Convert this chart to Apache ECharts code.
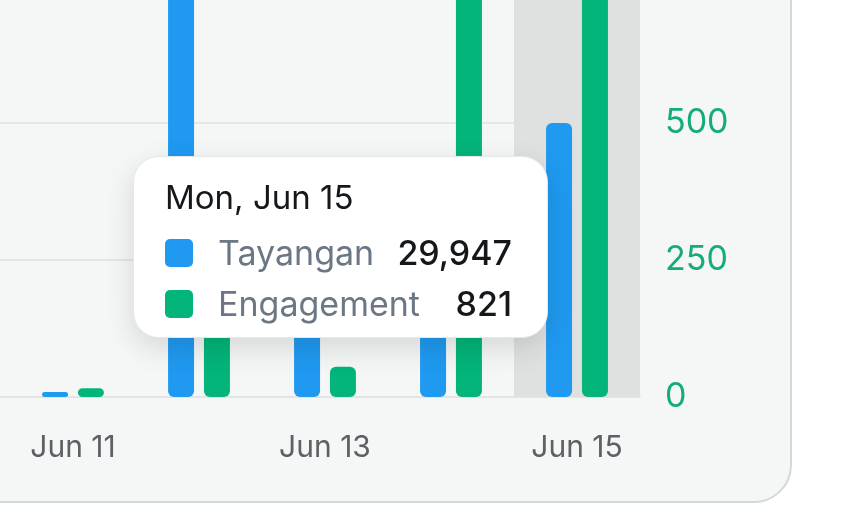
<!DOCTYPE html>
<html>
<head>
<meta charset="utf-8">
<script src="https://cdn.jsdelivr.net/npm/echarts@6/dist/echarts.min.js"></script>
<style>
  html, body { margin: 0; padding: 0; background: #ffffff; overflow: hidden; }
  #card {
    position: absolute; left: -40px; top: -40px; width: 832px; height: 543px;
    box-sizing: border-box; background: #f5f7f7;
    border: 2px solid #d3d8dd; border-radius: 38px;
  }
  /* the reference is a crop of a bigger chart, so the canvas starts off-screen */
  #chart { position: absolute; left: -300px; top: -200px; width: 1147px; height: 729px; }
</style>
</head>
<body>
<div id="card"></div>
<div id="chart"></div>
<script>
// days before Jun 11 are outside the visible crop
const days = ['Jun 9', 'Jun 10', 'Jun 11', 'Jun 12', 'Jun 13', 'Jun 14', 'Jun 15'];
const weekdays = ['Tue', 'Wed', 'Thu', 'Fri', 'Sat', 'Sun', 'Mon'];
const tayangan = [null, null, 550, 52000, 16000, 21000, 29947];
const engagement = [null, null, 16, 280, 55, 900, 821];
const engagementTicks = [0, 250, 500, 750, 1000];

const blue = '#1f9af0';
const green = '#03b57a';
const font = 'Inter, "Noto Sans", sans-serif';

const myChart = echarts.init(document.getElementById('chart'));

const fmt = v => Number(v).toLocaleString('en-US');

const option = {
  animation: false,
  textStyle: { fontFamily: font },
  grid: { left: 58, right: 207, top: 48, bottom: 132, containLabel: false },
  tooltip: {
    trigger: 'axis',
    triggerOn: 'none',
    alwaysShowContent: true,
    axisPointer: {
      type: 'shadow',
      z: 1,
      shadowStyle: { color: '#dfe1e1', opacity: 1 }
    },
    position: function () { return [433, 356]; },
    padding: 0,
    borderWidth: 1,
    borderColor: '#e4e8eb',
    backgroundColor: '#ffffff',
    extraCssText: 'width:415px;height:182px;box-sizing:border-box;border-radius:26px;box-shadow:0 10px 30px rgba(0,0,0,0.13);',
    formatter: function (params) {
      const i = params[0].dataIndex;
      let html = '<div style="padding:20px 35px 0 31px;font-family:' + font.replace(/"/g, "'") + ';">';
      html += '<div style="font-size:33px;line-height:40px;color:#15181b;">' + weekdays[i] + ', ' + days[i] + '</div>';
      html += '<div style="margin-top:10px;">';
      params.forEach(function (p) {
        html += '<div style="display:flex;align-items:center;height:51px;">' +
          '<span style="display:inline-block;width:28px;height:28px;border-radius:5px;background:' + p.color + ';"></span>' +
          '<span style="margin-left:25px;font-size:34px;color:#6b7785;">' + p.seriesName + '</span>' +
          '<span style="margin-left:auto;font-size:34px;font-weight:500;color:#15181b;">' + fmt(p.value) + '</span>' +
          '</div>';
      });
      html += '</div></div>';
      return html;
    }
  },
  xAxis: {
    type: 'category',
    data: days,
    axisTick: { show: false },
    axisLine: { show: true, lineStyle: { color: '#e1e5e8', width: 2 } },
    axisLabel: { interval: 1, margin: 36, fontSize: 30, color: '#5c6166', fontFamily: font }
  },
  yAxis: [{
    type: 'value',
    min: 0, max: 60000, interval: 15000,
    splitLine: { show: false },
    axisLine: { show: false },
    axisTick: { show: false },
    axisLabel: { show: false }
  }, {
    type: 'value',
    position: 'right',
    min: engagementTicks[0],
    max: engagementTicks[engagementTicks.length - 1],
    interval: engagementTicks[1] - engagementTicks[0],
    splitLine: { show: true, lineStyle: { color: '#e3e7ea', width: 2 } },
    axisLine: { show: false },
    axisTick: { show: false },
    axisLabel: { margin: 25, fontSize: 34, color: '#14ad78', fontFamily: font }
  }],
  series: [{
    name: 'Tayangan',
    type: 'bar',
    yAxisIndex: 0,
    data: tayangan,
    barWidth: 26,
    barGap: '38%',
    emphasis: { disabled: true },
    itemStyle: { color: blue, borderRadius: 6 }
  }, {
    name: 'Engagement',
    type: 'bar',
    yAxisIndex: 1,
    data: engagement,
    barWidth: 26,
    barGap: '38%',
    emphasis: { disabled: true },
    itemStyle: { color: green, borderRadius: 6 }
  }]
};

myChart.setOption(option);
myChart.dispatchAction({ type: 'showTip', seriesIndex: 0, dataIndex: 6 });
</script>
</body>
</html>
